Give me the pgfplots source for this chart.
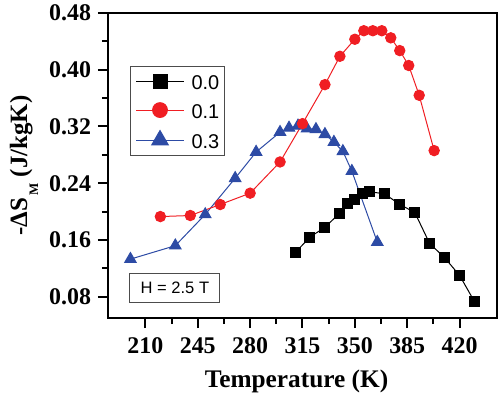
\documentclass[border=0pt]{standalone}
\usepackage{fontspec}
\setmainfont{Liberation Serif}
\newfontfamily\arial{Liberation Sans}
\usepackage{pgfplots}
\pgfplotsset{compat=1.18}
\definecolor{cred}{RGB}{240,30,35}
\definecolor{cblue}{RGB}{45,75,165}
\begin{document}
\begin{tikzpicture}
\path[use as bounding box] (-54bp,-39.5bp) rectangle (196bp,159bp);
\begin{axis}[
  scale only axis, width=194.5bp, height=152.5bp,
  xmin=185, xmax=445, ymin=0.05, ymax=0.48,
  axis line style={line width=1bp},
  every tick/.style={line width=1bp, black},
  tick align=outside, xtick pos=bottom, ytick pos=left,
  major tick length=5bp, minor tick length=3bp,
  xtick={210,245,280,315,350,385,420},
  xticklabels={210,245,280,315,350,385,420},
  ytick={0.08,0.16,0.24,0.32,0.40,0.48},
  yticklabels={0.08,0.16,0.24,0.32,0.40,0.48},
  minor x tick num=1, minor y tick num=1,
  /pgf/number format/assume math mode=true,
  ticklabel style={font=\bfseries\fontsize{12}{14}\selectfont},
  xticklabel style={yshift=-1.5bp},
  xlabel={Temperature (K)},
  ylabel={-ΔS\raisebox{-5.5bp}{\fontsize{6.5}{7}\selectfont\,M} (J/kgK)},
  every axis x label/.style={at={(axis description cs:0.5,0)}, anchor=base, yshift=-34.5bp, xshift=-3bp, font=\bfseries\fontsize{12.7}{15}\selectfont},
  every axis y label/.style={at={([xshift=-42bp]axis description cs:0,0.5)}, rotate=90, anchor=center, font=\bfseries\fontsize{12.5}{15}\selectfont},
  legend style={at={(rel axis cs:0.0566,0.826)}, anchor=north west, draw=black!70, line width=0.5bp,
    font=\arial\fontsize{10}{12}\selectfont, inner xsep=2.5bp, inner ysep=3.5bp, row sep=6.25bp,
    nodes={inner sep=0pt, text height=8bp, text depth=0pt},
    /tikz/every odd column/.style={column sep=3.5bp}},
  legend cell align=left,
  legend image code/.code={\draw[mark repeat=2,mark phase=2] plot coordinates {(0bp,0bp)(12bp,0bp)(24bp,0bp)};},
]
\addlegendimage{black, line width=0.5bp, mark=square*, mark size=3.5bp, mark options={solid, fill=black}}
\addlegendentry{0.0}
\addlegendimage{cred, line width=0.5bp, mark=*, mark size=3.7bp, mark options={solid, fill=cred, draw=cred}}
\addlegendentry{0.1}
\addlegendimage{cblue, line width=0.5bp, mark=triangle*, mark size=4.8bp, mark options={solid, fill=cblue, draw=cblue}}
\addlegendentry{0.3}
\addplot[forget plot, black, line width=0.5bp, mark=square*, mark size=2.5bp, mark options={fill=black}] coordinates {
(310,0.142) (320,0.164) (330,0.178) (340,0.198) (345,0.212) (350,0.217) (355,0.225) (360,0.228) (370,0.225) (380,0.210) (390,0.199) (400,0.155) (410,0.135) (420,0.110) (430,0.073)};
\addplot[forget plot, cblue, line width=0.5bp, mark=triangle*, mark size=3.3bp, mark options={fill=cblue, draw=cblue}] coordinates {
(200,0.133) (230,0.152) (250,0.196) (270,0.247) (284,0.284) (300,0.312) (306,0.318) (312,0.321) (318,0.317) (324,0.316) (330,0.309) (336,0.298) (342,0.285) (348,0.257) (365,0.157)};
\addplot[forget plot, cred, line width=0.5bp, mark=*, mark size=2.6bp, mark options={fill=cred, draw=cred}] coordinates {
(220,0.193) (240,0.1945) (260,0.210) (280,0.226) (300,0.270) (315,0.324) (330,0.379) (340,0.419) (350,0.443) (356,0.455) (362,0.455) (368,0.455) (374,0.445) (380,0.427) (386,0.406) (393,0.364) (403,0.286)};
\node[draw=black!70, line width=0.5bp, minimum width=45bp, minimum height=14.5bp, inner sep=0pt, font=\arial\fontsize{8.3}{10}\selectfont] at (rel axis cs:0.172,0.1) {H = 2.5 T};
\end{axis}
\end{tikzpicture}
\end{document}
